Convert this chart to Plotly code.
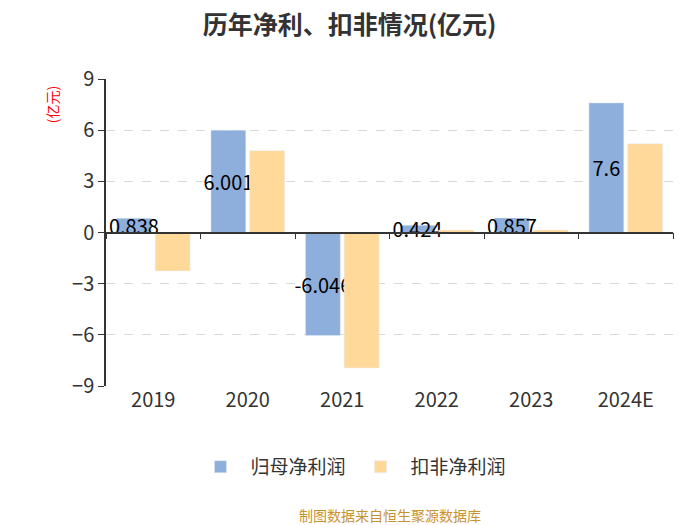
import plotly.graph_objects as go

years = ["2019", "2020", "2021", "2022", "2023", "2024E"]
net_profit = [0.838, 6.001, -6.046, 0.424, 0.857, 7.6]
deducted_profit = [-2.25, 4.8, -7.94, 0.14, 0.15, 5.2]
net_labels = ["0.838", "6.001", "-6.046", "0.424", "0.857", "7.6"]
y_ticks = [-9, -6, -3, 0, 3, 6, 9]

FONT = "Noto Sans CJK SC"

fig = go.Figure()
fig.add_trace(go.Bar(
    x=years, y=net_profit, name="归母净利润",
    marker=dict(color="#8eaedb"),
    text=net_labels, textposition="inside", insidetextanchor="middle",
    textangle=0, constraintext="none", cliponaxis=False,
    textfont=dict(color="#000000", size=20, family=FONT),
))
fig.add_trace(go.Bar(
    x=years, y=deducted_profit, name="扣非净利润",
    marker=dict(color="#ffd999"),
))
# invisible helper trace so the zero-line axis gets its category ticks
fig.add_trace(go.Scatter(
    x=years, y=[0] * len(years), xaxis="x2", mode="markers",
    marker=dict(opacity=0), showlegend=False, hoverinfo="skip",
))

# the page body adds an 8px offset, so margins are shifted to compensate
fig.update_layout(
    width=700, height=525,
    plot_bgcolor="white", paper_bgcolor="white",
    font=dict(family=FONT, color="#333333"),
    title=dict(text="<b>历年净利、扣非情况(亿元)</b>", x=0.488, xanchor="center",
               y=0.967, yanchor="middle", font=dict(size=25, color="#333333")),
    barmode="group", bargap=0.18, bargroupgap=0.1,
    margin=dict(l=98, r=35, t=71, b=147, autoexpand=False),
    showlegend=True,
    legend=dict(orientation="h", x=0.49, xanchor="center", xref="container",
                y=0.126, yanchor="middle", yref="container",
                font=dict(size=19, color="#333333"), itemwidth=50),
    xaxis=dict(type="category", showline=False, ticks="", showgrid=False,
               tickfont=dict(size=20, color="#333333"), range=[-0.5, 5.5]),
    xaxis2=dict(type="category", overlaying="x", anchor="free", position=0.5,
                side="bottom", showline=True, linecolor="#333333", linewidth=1.5,
                ticks="outside", tickson="boundaries", ticklen=6,
                tickcolor="#333333", showticklabels=False, showgrid=False,
                zeroline=False, range=[-0.5, 5.5]),
)
fig.update_yaxes(
    range=[-9, 9], tickvals=y_ticks, showgrid=True, gridcolor="#d9d9d9",
    griddash="dash", zeroline=False,
    showline=True, linecolor="#333333", linewidth=1.5, ticks="outside",
    ticklen=6, tickcolor="#333333", tickfont=dict(size=20, color="#333333"),
)
fig.add_annotation(text="(亿元)", textangle=-90, xref="paper", yref="paper",
                   x=-0.095, y=0.915, xanchor="center", yanchor="middle", showarrow=False,
                   font=dict(size=14, color="#ff0000"))
fig.add_annotation(text="制图数据来自恒生聚源数据库", xref="paper", yref="paper",
                   x=0.5, y=-0.42, xanchor="center", yanchor="middle", showarrow=False,
                   font=dict(size=14, color="#c8922e"))

fig.write_html("out.html")
